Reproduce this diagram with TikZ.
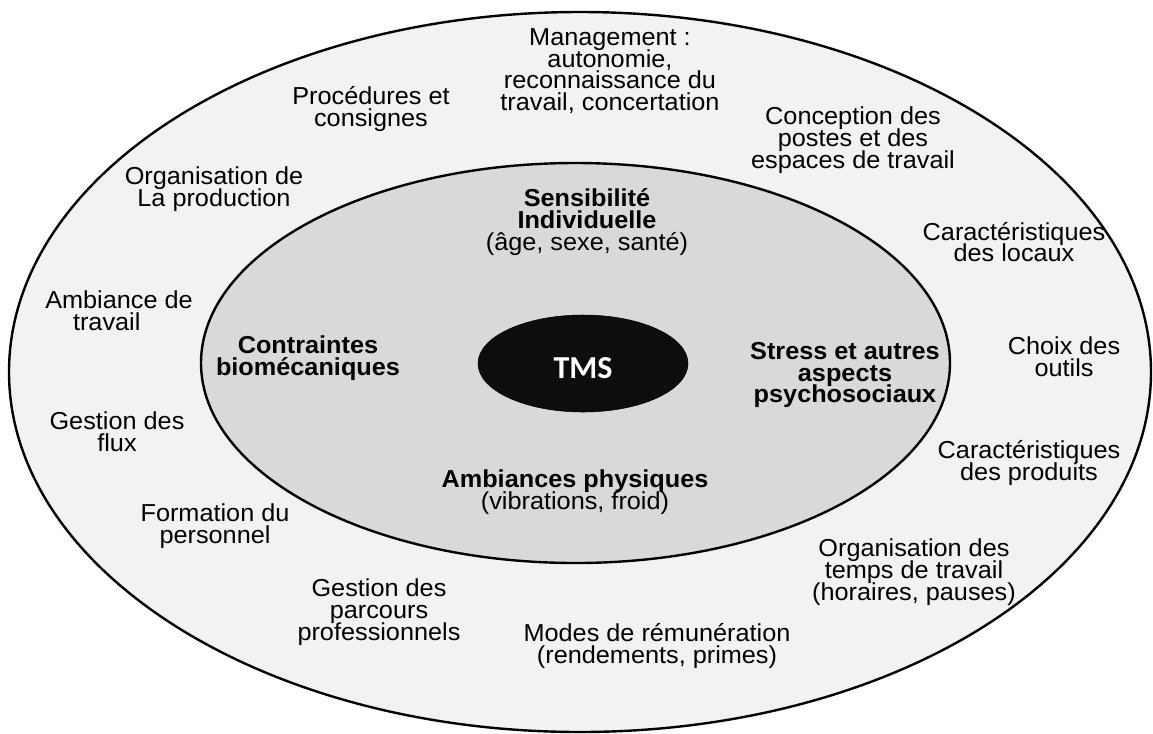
\documentclass[tikz,border=0pt]{standalone}
\usepackage{fontspec}
\setmainfont[FakeStretch=1.03]{Liberation Sans}
\newfontfamily\tmsfont{Carlito}
\usepackage{xcolor}
\usepackage{tikz}
\usetikzlibrary{shapes,positioning}
\definecolor{outergray}{HTML}{F2F2F2}
\definecolor{innergray}{HTML}{D9D9D9}
\definecolor{tmsblack}{HTML}{0D0D0D}
\newcommand{\txtsize}{\fontsize{18.4}{16.3}\selectfont\lineskiplimit=-20pt\relax}

\begin{document}
\begin{tikzpicture}[x=0.75pt,y=-0.75pt,
    ring/.style={ellipse,draw,line width=1.8pt,inner sep=0pt},
    factor/.style={align=center,font=\txtsize,inner sep=0pt}]
    \useasboundingbox (0,0) rectangle (1153,733);

    \node[ring,fill=outergray,minimum width=856.5pt,minimum height=540pt] (outer) at (580,372) {};
    \node[ring,fill=innergray,minimum width=561.75pt,minimum height=300pt] (inner) at (575.5,363) {};
    \node[ellipse,draw,fill=tmsblack,inner sep=0pt,minimum width=157.5pt,minimum height=72.75pt,
        text=white,font=\tmsfont\bfseries\fontsize{24}{24}\selectfont,text height=22.2pt,text depth=0pt] (tms) at (583,363.5) {TMS};

    \node[factor] (mgmt) at (610,71) {Management :\\autonomie,\\reconnaissance du\\travail, concertation};
    \node[factor] (proc) at (371,109) {Procédures et\\consignes};
    \node[factor] (orgprod) at (214,189) {Organisation de\\La production};
    \node[factor] (ambtrav) at (119,311) {Ambiance de\\travail\hspace*{1em}};
    \node[factor] (flux) at (117,432) {Gestion des\\flux};
    \node[factor] (form) at (215,526) {Formation du\\personnel};
    \node[factor] (parcours) at (379,612) {Gestion des\\parcours\\professionnels};
    \node[factor] (remu) at (657,646) {Modes de rémunération\\(rendements, primes)};
    \node[factor] (orgtemps) at (914,572) {Organisation des\\temps de travail\\(horaires, pauses)};
    \node[factor] (produits) at (1029,463) {Caractéristiques\\des produits};
    \node[factor] (outils) at (1064,357) {Choix des\\outils};
    \node[factor] (locaux) at (1014,242) {Caractéristiques\\des locaux};
    \node[factor] (postes) at (853,140) {Conception des\\postes et des\\espaces de travail};

    \node[factor] (sensib) at (587,222) {\textbf{Sensibilité}\\\textbf{Individuelle}\\(âge, sexe, santé)};
    \node[factor,font=\txtsize\bfseries] (biomeca) at (308,358) {Contraintes\\biomécaniques};
    \node[factor,font=\txtsize\bfseries] (stress) at (845,375) {Stress et autres\\aspects\\psychosociaux};
    \node[factor] (physiq) at (575,492) {\textbf{Ambiances physiques}\\(vibrations, froid)};
\end{tikzpicture}
\end{document}
